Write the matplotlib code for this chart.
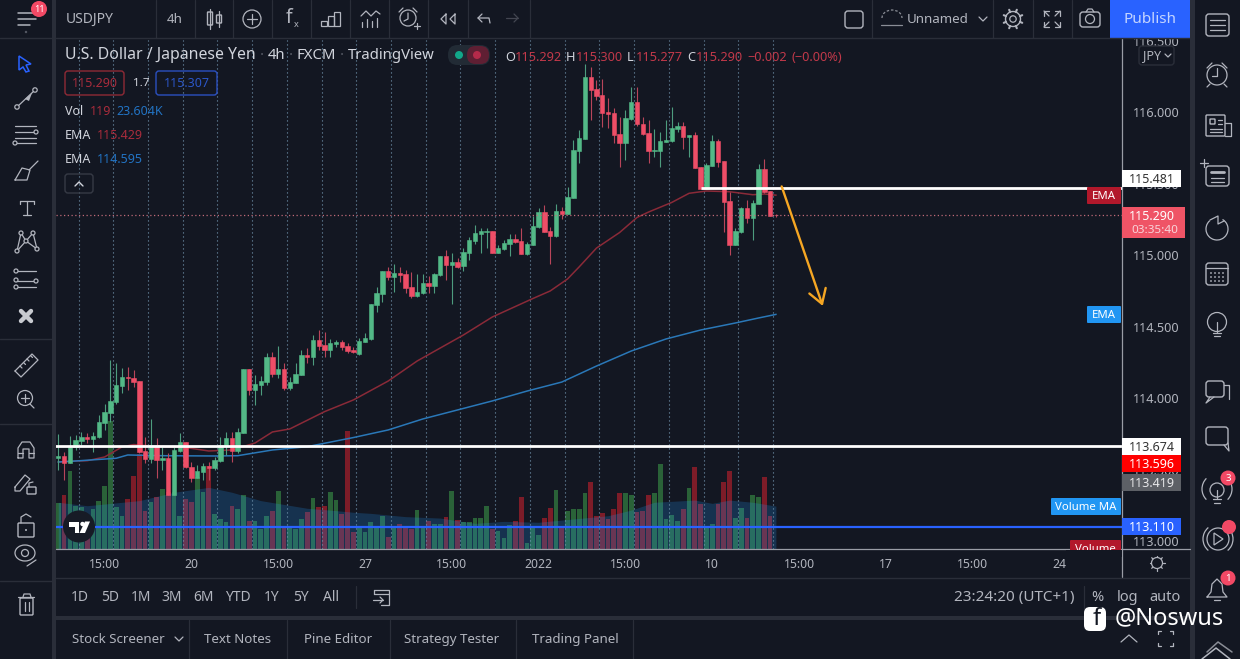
import numpy as np
import matplotlib
matplotlib.use("Agg")
import matplotlib.pyplot as plt
from matplotlib.patches import Rectangle, Circle, FancyBboxPatch, Polygon, Arc

plt.rcParams['font.family'] = ['Noto Sans', 'DejaVu Sans']

# 4h candles
opens = [113.591,113.605,113.554,113.666,113.710,113.738,113.726,113.736,113.834,113.903,
         113.985,114.095,114.157,114.148,114.130,113.643,113.584,113.682,113.580,113.589,
         113.333,113.643,113.703,113.528,113.454,113.493,113.535,113.521,113.573,113.677,
         113.733,113.643,113.768,114.213,114.067,114.102,114.125,114.295,114.176,114.211,
         114.083,114.118,114.171,114.314,114.300,114.416,114.381,114.346,114.388,114.400,
         114.374,114.347,114.319,114.403,114.423,114.661,114.738,114.899,114.855,114.882,
         114.876,114.787,114.724,114.745,114.815,114.794,114.871,115.004,114.940,114.962,
         114.934,115.027,115.109,115.160,115.171,115.178,115.027,115.053,115.090,115.122,
         115.109,115.018,115.081,115.209,115.311,115.178,115.143,115.319,115.298,115.409,
         115.740,115.824,116.253,116.171,116.129,116.013,116.006,115.857,115.796,115.962,
         116.080,115.927,115.861,115.740,115.740,115.803,115.808,115.894,115.913,115.836,
         115.847,115.626,115.475,115.633,115.810,115.668,115.388,115.083,115.174,115.339,
         115.270,115.367,115.612,115.456,115.292]
highs = [113.759,113.635,113.745,113.752,113.775,113.768,113.775,113.892,113.969,114.276,
         114.253,114.218,114.225,114.206,114.130,113.740,113.864,113.729,113.670,113.624,
         113.670,113.764,113.703,113.566,113.542,113.559,113.566,113.601,113.740,113.775,
         113.775,113.799,114.213,114.213,114.171,114.164,114.328,114.335,114.374,114.253,
         114.160,114.253,114.346,114.358,114.451,114.486,114.474,114.421,114.416,114.416,
         114.393,114.370,114.428,114.463,114.668,114.789,114.899,114.924,114.948,114.924,
         114.906,114.894,114.878,114.878,114.864,114.882,115.004,115.046,115.022,114.987,
         115.057,115.139,115.220,115.197,115.197,115.178,115.081,115.115,115.157,115.157,
         115.202,115.104,115.283,115.337,115.360,115.209,115.367,115.349,115.489,115.815,
         115.885,116.346,116.327,116.234,116.239,116.106,116.036,115.978,116.024,116.188,
         116.183,115.973,115.955,115.889,115.873,115.955,116.048,115.941,115.941,115.850,
         115.873,115.626,115.652,115.850,115.819,115.668,115.454,115.197,115.349,115.395,
         115.395,115.647,115.682,115.456,115.300]
lows = [113.507,113.437,113.554,113.647,113.682,113.694,113.635,113.729,113.787,113.845,
        113.969,114.043,114.067,114.090,113.624,113.554,113.554,113.449,113.507,113.333,
        113.333,113.635,113.519,113.426,113.449,113.437,113.437,113.507,113.566,113.612,
        113.566,113.624,113.764,114.032,113.962,114.032,114.102,114.160,114.148,114.067,
        114.067,114.113,114.171,114.253,114.241,114.346,114.300,114.300,114.369,114.346,
        114.323,114.323,114.312,114.403,114.416,114.614,114.684,114.836,114.754,114.824,
        114.743,114.708,114.719,114.738,114.743,114.743,114.864,114.836,114.668,114.917,
        114.901,114.976,115.088,115.022,115.057,115.022,115.022,115.046,115.006,115.092,
        115.018,115.011,115.081,115.197,115.174,114.948,115.139,115.260,115.298,115.409,
        115.652,115.819,115.955,116.094,115.908,115.896,115.791,115.624,115.675,115.955,
        115.913,115.850,115.652,115.694,115.624,115.803,115.803,115.873,115.750,115.694,
        115.617,115.470,115.475,115.633,115.624,115.174,115.011,115.081,115.167,115.232,
        115.116,115.367,115.442,115.286,115.277]
closes = [113.605,113.554,113.670,113.717,113.736,113.724,113.743,113.841,113.913,113.990,
          114.102,114.157,114.148,114.125,113.635,113.584,113.682,113.577,113.591,113.333,
          113.647,113.705,113.526,113.454,113.500,113.535,113.524,113.577,113.682,113.733,
          113.643,113.771,114.213,114.067,114.106,114.130,114.295,114.176,114.211,114.083,
          114.120,114.176,114.309,114.300,114.416,114.374,114.346,114.393,114.400,114.365,
          114.339,114.333,114.410,114.430,114.668,114.747,114.899,114.855,114.882,114.871,
          114.782,114.724,114.752,114.815,114.794,114.878,115.004,114.938,114.959,114.929,
          115.032,115.115,115.164,115.178,115.181,115.027,115.057,115.095,115.120,115.099,
          115.018,115.090,115.213,115.311,115.174,115.143,115.318,115.300,115.414,115.745,
          115.829,116.253,116.164,116.122,116.006,115.997,115.852,115.796,115.969,116.080,
          115.924,115.857,115.740,115.747,115.808,115.815,115.899,115.913,115.836,115.847,
          115.619,115.470,115.638,115.805,115.663,115.381,115.083,115.179,115.339,115.270,
          115.372,115.610,115.451,115.286,115.290]
# volume in thousands
volumes = [25.3,29.9,42.7,23.8,22.9,18.3,22,26.6,34.8,70.6,
           22.9,18.3,27.5,40.3,52.2,21.1,25.7,28.4,33,31.2,
           31.2,18.3,27.5,25.7,39.4,31.2,45.8,19.2,16.5,14.7,
           23.8,22,29.9,15.6,15.6,11,18.3,21.1,31.7,12.8,
           11.9,11,16.5,20.2,28,22.9,23.8,31.2,27.1,19.2,
           65,9.2,11.4,9.5,15,12.3,18.3,6.8,12.8,13.7,
           12.8,11,21.6,11.9,15.6,13.7,13.7,17.4,32,16,
           14.7,14.7,17,17,23.8,11,10,5.9,13.2,15.6,
           28.4,3.1,12.8,7.9,16.9,22.5,32.6,11.9,21,22.2,
           22.2,31,36.7,18.3,19.8,16.5,21.8,30.6,31,29.9,
           20.2,21,29.9,31,47,16.5,18.9,15.6,22.2,33.5,
           44.9,25,12.8,13.7,25,37,43,17,22.5,17,
           29.9,28.4,39.4,18.3,0.119]
vol_ma_x = [0,5,14,20,26,30,35,43,48,51,54,60,66,72,77,83,89,95,99,103,110,113,116,120,124]
vol_ma = [25.7,23.8,26.6,31.2,33.9,31.2,26.6,22.4,21.1,20.2,19.6,17.8,17,14.1,15.2,14.7,16.5,
          18.3,21.4,25.7,26.9,25.1,26.9,25.7,23.6]
ema_red_x = [0,3,5,8,11,13,16,22,26,30,34,37,40,46,51,57,62,70,75,82,85,88,90,93,97,100,102,106,109,
             112,116,120,122,124]
ema_red = [113.563,113.570,113.572,113.598,113.668,113.685,113.675,113.664,113.640,113.647,113.696,
           113.773,113.794,113.915,113.997,114.129,114.269,114.451,114.577,114.706,114.759,114.843,114.927,
           115.059,115.168,115.273,115.311,115.378,115.442,115.458,115.453,115.432,115.437,115.429]
ema_blue_x = [0,3,10,12,18,27,31,37,43,51,57,63,69,75,81,87,93,99,105,111,117,121,124]
ema_blue = [113.563,113.570,113.589,113.612,113.607,113.605,113.607,113.647,113.670,113.734,113.787,
            113.864,113.927,113.990,114.059,114.122,114.234,114.339,114.423,114.486,114.535,114.570,
            114.595]
date_ticks = [8,23,38,53,68,83,98,113,128,143,158,173]
date_labels = ['15:00','20','15:00','27','15:00','2022','15:00','10','15:00','17','15:00','24']
price_ticks = [113.0,113.5,114.0,114.5,115.0,115.5,116.0,116.5]
last_price = 115.290
level_white_1 = 113.674
level_white_2 = 115.481
level_blue = 113.110

BG = '#131722'
SEP = '#2a2e39'
TXT = '#b2b5be'
GREEN = '#53b987'
RED = '#ee4e67'
DIMRED = '#a82c3c'
BLUE = '#2273c3'
BADGE = '#f24965'

fig = plt.figure(figsize=(12.4, 6.59), dpi=100, facecolor=BG)
W, H = 1240.0, 659.0
L, R, T, B = 56, 1122, 40, 549
rect = [L/W, (H-B)/H, (R-L)/W, (B-T)/H]

# volume pane sits behind the price pane
axv = fig.add_axes(rect, facecolor=BG, zorder=1)
ax = fig.add_axes(rect, facecolor='none', zorder=2)
x = np.arange(len(opens))
o, h, l, c = map(np.array, (opens, highs, lows, closes))
up = c >= o

x0, dx = 58.3, 5.787
xlim = ((L-x0)/dx, (R-x0)/dx)
ylim = (116-(B-113.5)/143, 116-(T-113.5)/143)
for a in (ax, axv):
    a.set_xlim(xlim)
    for s in a.spines.values():
        s.set_visible(False)
ax.set_ylim(ylim)
axv.set_ylim(0, (B-T)*0.55)
axv.set_xticks([])
axv.set_yticks([])

axv.bar(x[up], np.array(volumes)[up], width=0.82, color='#2a6238', lw=0)
axv.bar(x[~up], np.array(volumes)[~up], width=0.82, color='#7d1c28', lw=0)
axv.fill_between(vol_ma_x, vol_ma, 0, color='#2196f3', alpha=0.22, lw=0)
axv.vlines(np.arange(3.5, 124, 6), 0, 280, color='#7396b0', lw=0.8, linestyles=(0, (1, 2.6)))

ax.plot(ema_red_x, ema_red, color='#8a2a38', lw=1.1, zorder=2)
ax.plot(ema_blue_x, ema_blue, color='#2a78b8', lw=1.1, zorder=2)
ax.vlines(x[up], l[up], h[up], color='#4d9c7e', lw=0.8, zorder=3)
ax.vlines(x[~up], l[~up], h[~up], color='#b8455a', lw=0.8, zorder=3)
ax.bar(x[up], (c-o)[up], bottom=o[up], width=0.76, color=GREEN, lw=0.4, edgecolor=GREEN, zorder=4)
ax.bar(x[~up], (o-c)[~up], bottom=c[~up], width=0.76, color=RED, lw=0.4, edgecolor=RED, zorder=4)

ax.axhline(last_price, color='#c06a78', lw=0.9, ls=(0, (1, 2)), zorder=5)
ax.axhline(level_white_1, color='white', lw=2, zorder=6)
ax.axhline(level_blue, color='#2962ff', lw=1.6, zorder=6)
ax.hlines(level_white_2, 111, xlim[1], color='white', lw=2, zorder=6)
ax.annotate('', xy=(132.1, 114.654), xytext=(125, 115.49), zorder=7,
            arrowprops=dict(arrowstyle='->,head_length=1.0,head_width=0.62', color='#f5a623', lw=1.7,
                            shrinkA=0, shrinkB=0))

ax.set_xticks(date_ticks)
ax.set_xticklabels(date_labels, fontsize=8.8, color=TXT)
ax.get_xticklabels()[5].set_fontweight('bold')
ax.yaxis.tick_right()
ax.set_yticks(price_ticks)
ax.set_yticklabels(['%.3f' % p for p in price_ticks], fontsize=9.1, color=TXT, va='center')
ax.tick_params(axis='x', length=0, pad=6.5)
ax.tick_params(axis='y', length=0, pad=8)

# ---- interface around the chart, in pixel coordinates
ui = fig.add_axes([0, 0, 1, 1], facecolor='none', zorder=5)
ui.set_xlim(0, W)
ui.set_ylim(H, 0)
ui.axis('off')


def box(x1, y1, x2, y2, fc=BG, ec='none', lw=1, z=3):
    ui.add_patch(Rectangle((x1, y1), x2-x1, y2-y1, fc=fc, ec=ec, lw=lw, zorder=z))


def rbox(x1, y1, x2, y2, fc='none', ec=TXT, lw=1, r=3, z=5):
    ui.add_patch(FancyBboxPatch((x1+r, y1+r), x2-x1-2*r, y2-y1-2*r, boxstyle='round,pad=%g,rounding_size=%g' % (r, r),
                                fc=fc, ec=ec, lw=lw, zorder=z))


def ln(pts, col=TXT, lw=0.9, z=5):
    pts = np.array(pts)
    ui.plot(pts[:, 0], pts[:, 1], color=col, lw=lw, zorder=z, solid_capstyle='round')


def circ(cx, cy, r, fc='none', ec=TXT, lw=0.9, z=5):
    ui.add_patch(Circle((cx, cy), r, fc=fc, ec=ec, lw=lw, zorder=z))


def txt(px, py, s, col=TXT, size=9, ha='center', weight='normal', z=6):
    ui.text(px, py+1.2, s, color=col, fontsize=size, ha=ha, va='center', fontweight=weight, zorder=z)


# panels
box(0, 0, 52, H)
box(1190, 0, W, H)
box(0, 0, W, 38)
box(52, 577, 1190, H)
box(52, 0, 56, H, fc=SEP)
box(1190, 0, 1195, H, fc=SEP)
box(56, 616, 1190, 620, fc=SEP)
box(634, 620, 1190, H, fc=BG)
ln([(56, 38), (1190, 38)], SEP, 1)
ln([(0, 38), (52, 38)], SEP, 1)
ln([(56, 577.5), (1190, 577.5)], SEP, 1)
ln([(56, B), (1190, B)], '#9a9da6', 0.9, z=4)
ln([(R, 38), (R, 577)], '#9a9da6', 0.9, z=4)
for sx in [156, 195, 233, 272, 311, 350, 389, 428, 468, 530, 872, 993, 1033, 1072]:
    ln([(sx, 0), (sx, 38)], SEP, 0.9)
for sy in [339, 424, 581]:
    ln([(0, sy), (52, sy)], SEP, 1)
for sx in [189, 287, 390, 516, 633]:
    ln([(sx, 620), (sx, H)], SEP, 0.9)
ln([(356, 586), (356, 608)], SEP, 0.9)
ln([(1084, 586), (1084, 608)], SEP, 0.9)

# top bar
txt(90, 18, 'USDJPY', TXT, 10, weight='bold')
txt(175, 18, '4h', TXT, 9.6)
ln([(210, 9), (210, 29)]); rbox(207.5, 12, 212.5, 25, r=0.5)
ln([(219, 11), (219, 27)]); rbox(216.5, 15, 221.5, 23, r=0.5)
circ(252, 19, 9)
ln([(247, 19), (257, 19)]); ln([(252, 14), (252, 24)])
txt(289, 17, 'f', TXT, 14)
txt(296, 23, 'x', TXT, 6.5)
for bx, by in [(324, 21), (331, 16), (337, 12)]:
    ui.add_patch(Rectangle((bx-3, by), 6, 26-by, fc='none', ec=TXT, lw=0.9, zorder=5))
ln([(361, 16), (366, 11), (371, 16), (376, 11), (380, 14)])
for bx, by in [(362, 22), (367, 19), (372, 21), (377, 18)]:
    ln([(bx, by), (bx, 27)])
circ(408, 18, 8)
ln([(408, 13), (408, 19), (404, 21)])
ln([(399, 12), (403, 8)]); ln([(413, 8), (417, 12)])
ln([(414, 26), (420, 26)]); ln([(417, 23), (417, 29)])
ln([(446, 14), (441, 19), (446, 24), (446, 14)]); ln([(455, 14), (450, 19), (455, 24), (455, 14)])
ln([(478, 18), (489, 18), (490, 23)]); ln([(482, 14), (478, 18), (482, 22)])
ln([(506, 18), (518, 18)], '#434651'); ln([(514, 14), (518, 18), (514, 22)], '#434651')
rbox(845, 11, 863, 28)
ln([(881, 25), (902, 25)], '#8a8d96', lw=0.9)
ui.add_patch(Arc((892, 18), 20, 16, theta1=180, theta2=360, ec='#8a8d96', lw=0.9, ls=(0, (2, 1.5)), zorder=5))
txt(938, 18, 'Unnamed', TXT, 9.6)
ln([(979, 17), (983, 21), (987, 17)])
circ(1013, 19, 3.2); circ(1013, 19, 7.5, lw=1)
for k in range(8):
    ang = k*np.pi/4 + np.pi/8
    ln([(1013+7.5*np.cos(ang), 19+7.5*np.sin(ang)), (1013+10*np.cos(ang), 19+10*np.sin(ang))], lw=1.5)
for ax_, ay in [(1044, 11), (1060, 11), (1044, 27), (1060, 27)]:
    sx = 1 if ax_ < 1052 else -1
    sy = 1 if ay < 19 else -1
    ln([(ax_+sx*5, ay), (ax_, ay), (ax_, ay+sy*5)]); ln([(ax_, ay), (ax_+sx*5, ay+sy*5)])
rbox(1080, 12, 1100, 27)
circ(1090, 19, 4.5)
ln([(1086, 12), (1088, 9), (1092, 9), (1094, 12)])
box(1110, 0, 1190, 38, fc='#2962ff', z=4)
txt(1150, 18, 'Publish', '#c3d4ff', 11)

# hamburger and left toolbar
for yy, w_ in [(13, 16), (19, 18), (25, 12)]:
    ln([(18, yy), (18+w_, yy)], lw=1.1)
circ(26, 32, 1.2, fc='#555964', ec='none')
circ(39, 9, 8, fc=BADGE, ec='none')
txt(39, 8, '11', 'white', 6.5, weight='bold', z=7)
ui.add_patch(Polygon([(19, 56), (31, 64), (26, 65), (29, 71), (26, 72), (23, 67), (19, 70)], closed=True,
                     fc='none', ec='#2962ff', lw=1.1, zorder=5))
ln([(17, 107), (35, 90)]); circ(17, 107, 2.2, fc=BG); circ(35, 90, 2.2, fc=BG)
ui.add_patch(Polygon([(25, 99), (32, 93), (29, 101)], closed=True, fc=TXT, ec='none', zorder=5))
for yy, a1, a2 in [(126, 15, 36), (132, 15, 36), (138, 15, 36), (143, 15, 36)]:
    ln([(a1, yy), (a2, yy)])
circ(36, 132, 2, fc=BG); circ(15, 143, 2, fc=BG)
ln([(15, 180), (22, 168), (30, 170), (27, 180), (15, 180)]); ln([(29, 170), (38, 161)])
ln([(20, 201), (34, 201)]); ln([(27, 201), (27, 215)]); ln([(23, 215), (31, 215)]); ln([(20, 201), (20, 204)]); ln([(34, 201), (34, 204)])
pts = [(17, 251), (21, 233), (26, 241), (33, 233), (37, 249)]
ln(pts); ln([(17, 251), (26, 241), (37, 249)])
for p_ in pts:
    circ(p_[0], p_[1], 2, fc=BG)
for yy in [271, 281, 287]:
    ln([(16, yy), (36, yy)])
circ(16, 271, 2, fc=BG); circ(36, 281, 2, fc=BG); circ(16, 287, 2, fc=BG); circ(16, 280, 2, fc=BG)
ln([(21, 311), (31, 321)], '#c8cad0', 3.2); ln([(21, 321), (31, 311)], '#c8cad0', 3.2)
ln([(15, 371), (32, 354), (38, 360), (21, 377), (15, 371)])
for k in range(4):
    ln([(20+k*3.5, 366-k*3.5), (22+k*3.5, 368-k*3.5)])
circ(25, 398, 7.5); ln([(30, 404), (34, 408)]); ln([(21, 398), (29, 398)]); ln([(25, 394), (25, 402)])
ln([(18, 458), (18, 448), (22, 442), (30, 442), (34, 448), (34, 458), (29, 458), (29, 449), (23, 449), (23, 458), (18, 458)])
ln([(18, 453), (23, 453)]); ln([(29, 453), (34, 453)])
ln([(15, 487), (25, 475), (30, 479), (20, 491), (15, 491), (15, 487)])
rbox(27, 487, 36, 494, r=0.8); ln([(29, 487), (29, 483), (33, 482)])
rbox(18, 523, 34, 537, r=1); ln([(21, 523), (21, 517), (26, 514), (31, 517)])
circ(26, 530, 1, fc=TXT, ec='none')
ui.add_patch(Arc((25, 553), 20, 16, theta1=0, theta2=360, ec=TXT, lw=0.9, zorder=5))
circ(25, 553, 3.5)
ln([(27, 566), (36, 560)])
ln([(18, 597), (34, 597)]); rbox(20, 598, 33, 615, r=1)
ln([(23, 597), (24, 594), (30, 594), (31, 597)]); ln([(24.5, 602), (24.5, 611)]); ln([(28.5, 602), (28.5, 611)])

# legend text over the chart
txt(65, 54, 'U.S. Dollar / Japanese Yen', '#d1d4dc', 11.4, ha='left')
txt(268, 54, '4h', '#d1d4dc', 10.7, ha='left')
txt(297, 54, 'FXCM', '#d1d4dc', 10.7, ha='left')
txt(348, 54, 'TradingView', '#d1d4dc', 10.7, ha='left')
for dot_x in [262, 291, 342]:
    txt(dot_x, 54, '\u00b7', '#555964', 10.7)
rbox(448, 45, 490, 65, fc='#222b35', ec='none', r=9.5)
rbox(467, 46, 489, 64, fc='#5f1f33', ec='none', r=8.5, z=6)
circ(459, 55, 4, fc='#12a88a', ec='none', z=6)
circ(477, 55, 4, fc='#b52a4a', ec='none', z=7)
for hx, lab, vx, val in [(505, 'O', 515, '115.292'), (566, 'H', 576, '115.300'), (627, 'L', 636, '115.277'),
                         (687, 'C', 696, '115.290')]:
    txt(hx, 56, lab, '#d1d4dc', 9.2, ha='left')
    txt(vx, 56, val, '#c2394a', 9.2, ha='left')
txt(747, 56, '\u22120.002', '#c2394a', 9.2, ha='left')
txt(791, 56, '(\u22120.00%)', '#c2394a', 9.2, ha='left')
rbox(65, 71, 124, 95, ec='#8f2a36')
txt(94.5, 82, '115.290', DIMRED, 9)
txt(141, 82, '1.7', '#d1d4dc', 8.4, weight='bold')
rbox(156, 71, 217, 95, ec='#2b50c0')
txt(186.5, 82, '115.307', '#2b56c8', 9)
txt(65, 110, 'Vol', '#d1d4dc', 9, ha='left')
txt(90, 110, '119', DIMRED, 9, ha='left')
txt(116, 110, '23.604K', BLUE, 9, ha='left')
txt(65, 134, 'EMA', '#d1d4dc', 9, ha='left')
txt(97, 134, '115.429', DIMRED, 9, ha='left')
txt(65, 158, 'EMA', '#d1d4dc', 9, ha='left')
txt(97, 158, '114.595', BLUE, 9, ha='left')
rbox(65, 174, 93, 193, ec='#363a45')
ln([(75, 186), (79, 182), (83, 186)], '#d1d4dc', 1)
rbox(1139, 46, 1174, 65, ec='#2a2e39', fc=BG)
txt(1152, 54, 'JPY', TXT, 9)
ln([(1165, 54), (1168, 57), (1171, 54)])

# price labels
box(1122, 170, 1181, 187, fc='white', z=4)
txt(1152, 178, '115.481', '#333', 9)
rbox(1087, 187, 1121, 204, fc='#b2182b', ec='none', r=1, z=4)
txt(1104, 195, 'EMA', 'white', 8.2)
box(1122, 207, 1185, 238, fc='#ef5466', z=4)
txt(1152, 215, '115.290', 'white', 9)
txt(1155, 229, '03:35:40', '#f8d5da', 8.4)
rbox(1087, 306, 1121, 323, fc='#2196f3', ec='none', r=1, z=4)
txt(1104, 314, 'EMA', 'white', 8.2)
box(1122, 438, 1181, 455, fc='white', z=4)
txt(1152, 446, '113.674', '#333', 9)
box(1122, 455, 1181, 472, fc='#ff0000', z=4)
txt(1152, 463, '113.596', 'white', 9)
box(1122, 474, 1181, 491, fc='#5d6066', z=4)
txt(1152, 482, '113.419', '#e8e8ea', 9)
rbox(1051, 498, 1121, 515, fc='#2196f3', ec='none', r=1, z=4)
txt(1086, 506, 'Volume MA', 'white', 8.2)
box(1122, 518, 1181, 535, fc='#2962ff', z=4)
txt(1152, 526, '113.110', 'white', 9)
rbox(1070, 540, 1121, 556, fc='#b2182b', ec='none', r=1, z=4)
txt(1095, 548, 'Volume', 'white', 8.2, z=4.5)
box(1066, 549.5, 1121.5, 557, z=4.8)
circ(1157, 563, 5.5)
for k in range(8):
    ang = k*np.pi/4
    ln([(1157+6*np.cos(ang), 563+6*np.sin(ang)), (1157+7.5*np.cos(ang), 563+7.5*np.sin(ang))])

# tradingview logo
circ(79, 526.5, 16, fc='#171b26', ec='none', z=7)
ui.add_patch(Polygon([(69, 522), (79, 522), (79, 533), (74.5, 533), (74.5, 526.5), (69, 526.5)], closed=True,
                     fc='white', ec='none', zorder=8))
circ(82.5, 524, 2.2, fc='white', ec='none', z=8)
ui.add_patch(Polygon([(85, 533), (79.5, 533), (85, 521.5), (90, 521.5)], closed=True, fc='white', ec='none', zorder=8))

# range bar and tabs
for rx, lab in [(80, '1D'), (110, '5D'), (141, '1M'), (172, '3M'), (203, '6M'), (238, 'YTD'), (272, '1Y'),
                (301, '5Y'), (331, 'All')]:
    txt(rx, 596, lab, TXT, 10)
ln([(374, 590), (389, 590), (389, 605), (381, 605)])
ln([(374, 594), (389, 594)]); ln([(374, 590), (374, 594)])
ln([(373, 600), (383, 600)]); ln([(380, 597), (383, 600), (380, 603)])
txt(1014, 596, '23:24:20 (UTC+1)', TXT, 11)
txt(1097, 596, '%', TXT, 10.5)
txt(1128, 596, 'log', TXT, 10.5)
txt(1165, 596, 'auto', TXT, 10.5)
for tx, lab in [(118, 'Stock Screener'), (238, 'Text Notes'), (338, 'Pine Editor'), (452, 'Strategy Tester'),
                (575, 'Trading Panel')]:
    txt(tx, 638, lab, TXT, 9.6)
ln([(175, 637), (179, 641), (183, 637)])
ln([(1121, 642), (1129, 635), (1137, 642)])
for cx_, cy_ in [(1158, 631), (1173, 631), (1158, 646), (1173, 646)]:
    sx = 1 if cx_ < 1165 else -1
    sy = 1 if cy_ < 638 else -1
    ln([(cx_+sx*3, cy_), (cx_, cy_), (cx_, cy_+sy*3)])

# right toolbar
rbox(1206, 14, 1229, 36)
for yy in [20, 25, 30]:
    ln([(1210, yy), (1225, yy)])
circ(1217, 75, 10)
ln([(1217, 68), (1217, 76), (1212, 76)])
ln([(1207, 68), (1212, 63)]); ln([(1222, 63), (1227, 68)])
ln([(1210, 84), (1207, 87)]); ln([(1224, 84), (1227, 87)])
rbox(1206, 115, 1225, 136, r=1)
ln([(1225, 123), (1231, 123), (1231, 136), (1225, 136)])
rbox(1210, 119, 1215, 124, r=0.5)
for yy, x2_ in [(120, 1222), (124, 1222), (129, 1222), (132, 1222)]:
    ln([(1218 if yy < 126 else 1210, yy), (x2_, yy)])
rbox(1206, 166, 1229, 186)
ln([(1211, 172), (1224, 172)], lw=2)
ln([(1211, 178), (1224, 178)]); ln([(1211, 182), (1224, 182)])
ln([(1200, 163), (1208, 163)]); ln([(1204, 159), (1204, 167)])
ui.add_patch(Arc((1217, 229), 22, 22, theta1=300, theta2=230, ec=TXT, lw=0.9, zorder=5))
ln([(1210, 220), (1218, 216), (1218, 224), (1224, 221)])
rbox(1206, 263, 1228, 285)
ln([(1206, 268), (1228, 268)])
for yy in [273, 277, 281]:
    for xx in [1211, 1215, 1219, 1223]:
        circ(xx, yy, 0.9, fc=TXT, ec='none')
circ(1217, 322, 9.5)
ln([(1213, 333), (1221, 333)]); ln([(1214, 336), (1220, 336)])
ln([(1217, 322), (1217, 332)])
rbox(1206, 381, 1224, 397); ln([(1210, 397), (1206, 403), (1214, 397)]); ln([(1224, 385), (1229, 385), (1229, 399)])
rbox(1206, 427, 1228, 445); ln([(1224, 445), (1229, 451), (1228, 443)])
circ(1217, 490, 7); ln([(1213, 499), (1221, 499)]); ln([(1214, 503), (1220, 503)]); ln([(1217, 490), (1217, 498)])
ui.add_patch(Arc((1217, 489), 30, 30, theta1=135, theta2=225, ec=TXT, lw=0.9, zorder=5))
ui.add_patch(Arc((1217, 489), 30, 30, theta1=-45, theta2=45, ec=TXT, lw=0.9, zorder=5))
circ(1228, 478, 7.5, fc=BADGE, ec='none', z=6)
txt(1228, 477, '3', 'white', 7, weight='bold', z=7)
ui.add_patch(Polygon([(1214, 533), (1223, 539), (1214, 545)], closed=True, fc='none', ec=TXT, lw=0.9, zorder=5))
circ(1218, 539, 11)
ui.add_patch(Arc((1218, 539), 30, 30, theta1=130, theta2=230, ec=TXT, lw=0.9, zorder=5))
ui.add_patch(Arc((1218, 539), 30, 30, theta1=-50, theta2=50, ec=TXT, lw=0.9, zorder=5))
circ(1229, 527, 7, fc=BADGE, ec='none', z=6)
ln([(1207, 597), (1211, 592), (1212, 584), (1217, 579), (1222, 584), (1223, 592), (1227, 597), (1207, 597)])
ln([(1214, 600), (1220, 600)])
circ(1228, 578, 7.5, fc=BADGE, ec='none', z=6)
txt(1228, 577, '1', 'white', 7, weight='bold', z=7)
ln([(1202, 659), (1216, 648), (1230, 659)], lw=1.1)
ln([(1207, 652), (1218, 642), (1232, 652)], '#8a8d96', 1.1)

# watermark
rbox(1084, 607, 1106, 631, fc='white', ec='none', r=6, z=8)
txt(1097, 618, 'f', BG, 17, weight='bold', z=9)
txt(1115, 617, '@Noswus', 'white', 17, ha='left', z=9)

fig.savefig('out.png', dpi=100, facecolor=BG)
